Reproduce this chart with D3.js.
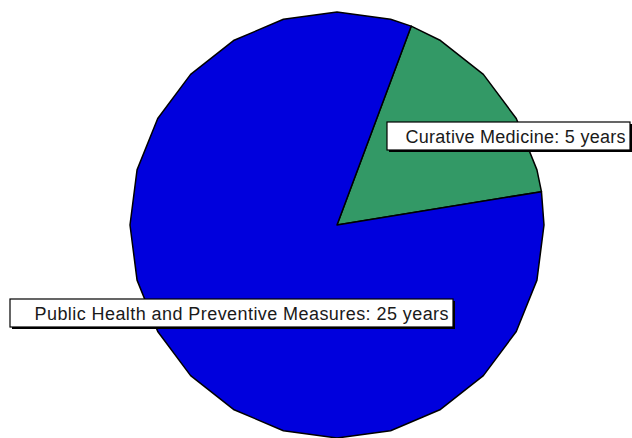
<!DOCTYPE html>
<html>
<head>
<meta charset="utf-8">
<script src="https://cdn.jsdelivr.net/npm/d3@7/dist/d3.min.js"></script>
<style>
  html, body { margin: 0; padding: 0; background: #fff; }
  svg { display: block; }
  text { font-family: "Liberation Sans", Arial, sans-serif; }
</style>
</head>
<body>
<svg id="chart" width="632" height="438"></svg>
<script>
// Life-expectancy gains attributed to each cause (years)
const categories = ["Curative Medicine", "Public Health and Preventive Measures"];
const values = [5, 25];
const colors = ["#339966", "#0000DD"];
const labels = ["Curative Medicine: 5 years", "Public Health and Preventive Measures: 25 years"];

const W = 632, H = 438;
const cx = 337, cy = 225, rx = 207, ry = 213;
const startDeg = 21;   // first slice begins just right of twelve o'clock
const facets = 24;     // the outline is drawn as a faceted polygon

const svg = d3.select("#chart");

const pie = d3.pie().sort(null).value(d => d)
  .startAngle(startDeg * Math.PI / 180)
  .endAngle((startDeg + 360) * Math.PI / 180);
const arcs = pie(values);

// point on the (slightly oval) outline at a pie angle measured clockwise from top
const pt = a => [cx + rx * Math.sin(a), cy - ry * Math.cos(a)];
const step = 2 * Math.PI / facets;
const line = d3.line();

function slicePath(d) {
  const pts = [[cx, cy], pt(d.startAngle)];
  let k = Math.ceil(d.startAngle / step + 1e-6);
  for (let a = k * step; a < d.endAngle - 1e-6; a += step) pts.push(pt(a));
  pts.push(pt(d.endAngle));
  return line(pts) + "Z";
}

svg.append("g").selectAll("path")
  .data(arcs)
  .join("path")
  .attr("d", slicePath)
  .attr("fill", (d, i) => colors[i])
  .attr("stroke", "#000")
  .attr("stroke-width", 1.5)
  .attr("stroke-linejoin", "round");

// label boxes with a dark drop shadow, text right-aligned
const boxes = [
  { x: 387, y: 122, w: 243, h: 28, tw: 220 },
  { x: 10, y: 299, w: 443, h: 28, tw: 414 }
];

const lg = svg.append("g").selectAll("g")
  .data(labels)
  .join("g");

lg.append("rect")
  .attr("x", (d, i) => boxes[i].x + 2)
  .attr("y", (d, i) => boxes[i].y + 2)
  .attr("width", (d, i) => boxes[i].w)
  .attr("height", (d, i) => boxes[i].h)
  .attr("fill", "#000");

lg.append("rect")
  .attr("x", (d, i) => boxes[i].x)
  .attr("y", (d, i) => boxes[i].y)
  .attr("width", (d, i) => boxes[i].w)
  .attr("height", (d, i) => boxes[i].h)
  .attr("fill", "#fff")
  .attr("stroke", "#000")
  .attr("stroke-width", 1.2);

lg.append("text")
  .attr("x", (d, i) => boxes[i].x + boxes[i].w - 4.5 - boxes[i].tw)
  .attr("y", (d, i) => boxes[i].y + 20.5)
  .attr("font-size", 18)
  .attr("textLength", (d, i) => boxes[i].tw)
  .attr("lengthAdjust", "spacing")
  .attr("fill", "#1a1a1a")
  .text(d => d);
</script>
</body>
</html>
